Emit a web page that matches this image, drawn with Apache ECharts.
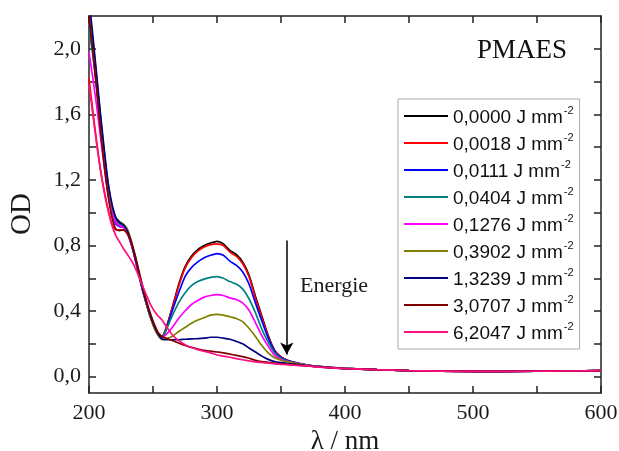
<!DOCTYPE html>
<html>
<head>
<meta charset="utf-8">
<script src="https://cdn.jsdelivr.net/npm/echarts@6/dist/echarts.min.js"></script>
<style>html,body{margin:0;padding:0;background:#fff}#c{width:619px;height:451px}</style>
</head>
<body>
<div id="c"></div>
<script>
const wavelengths = [200,203,206,209,212,215,218,221,224,227,230,233,236,239,242,245,248,251,254,257,
  260,265,270,275,280,285,290,295,300,305,310,315,320,325,330,335,340,345,350,355,360,
  370,380,400,425,450,500,550,600];

const od_00000 = [2.25,2.03,1.8,1.56,1.34,1.15,1.03,0.96,0.935,0.915,0.88,0.81,0.72,0.62,0.525,0.44,0.365,0.305,0.26,0.245,
  0.29,0.42,0.56,0.67,0.735,0.775,0.80,0.815,0.825,0.81,0.77,0.745,0.70,0.62,0.49,0.37,0.25,0.16,0.12,0.10,0.088,
  0.072,0.062,0.05,0.042,0.037,0.032,0.033,0.036];
const od_00018 = [1.82,1.62,1.43,1.26,1.13,1.02,0.93,0.895,0.895,0.895,0.87,0.81,0.73,0.63,0.535,0.45,0.37,0.31,0.265,0.245,
  0.29,0.415,0.55,0.66,0.725,0.765,0.79,0.805,0.81,0.80,0.76,0.735,0.69,0.61,0.48,0.36,0.245,0.16,0.12,0.10,0.087,
  0.071,0.061,0.05,0.042,0.037,0.032,0.033,0.036];
const od_00111 = [2.22,2.0,1.77,1.53,1.31,1.12,1.0,0.93,0.915,0.91,0.88,0.81,0.72,0.62,0.525,0.44,0.365,0.3,0.255,0.24,
  0.28,0.40,0.51,0.61,0.665,0.70,0.725,0.74,0.75,0.74,0.705,0.68,0.64,0.565,0.45,0.34,0.235,0.155,0.115,0.098,0.086,
  0.071,0.061,0.05,0.042,0.037,0.032,0.033,0.036];
const od_00404 = [2.12,1.96,1.76,1.53,1.32,1.13,1.02,0.955,0.93,0.915,0.88,0.81,0.72,0.62,0.525,0.44,0.365,0.3,0.255,0.24,
  0.28,0.37,0.45,0.51,0.555,0.58,0.595,0.605,0.61,0.60,0.58,0.565,0.535,0.475,0.39,0.29,0.21,0.145,0.11,0.095,0.085,
  0.07,0.06,0.05,0.042,0.037,0.032,0.033,0.036];
const od_01276 = [1.98,1.82,1.65,1.46,1.28,1.11,1.0,0.94,0.92,0.91,0.875,0.81,0.72,0.62,0.525,0.44,0.365,0.3,0.255,0.235,
  0.255,0.30,0.355,0.40,0.44,0.465,0.485,0.495,0.50,0.495,0.48,0.47,0.45,0.405,0.33,0.25,0.185,0.13,0.105,0.092,0.083,
  0.07,0.06,0.05,0.042,0.037,0.032,0.033,0.036];
const od_03902 = [2.25,2.05,1.82,1.58,1.36,1.17,1.04,0.97,0.945,0.93,0.9,0.83,0.74,0.635,0.53,0.44,0.36,0.295,0.25,0.225,
  0.23,0.245,0.275,0.30,0.325,0.345,0.36,0.375,0.38,0.375,0.365,0.355,0.335,0.295,0.245,0.19,0.145,0.115,0.1,0.09,0.082,
  0.069,0.06,0.05,0.042,0.037,0.032,0.033,0.036];
const od_13239 = [2.3,2.08,1.84,1.6,1.38,1.18,1.05,0.97,0.94,0.925,0.89,0.82,0.73,0.63,0.53,0.45,0.37,0.31,0.26,0.23,
  0.225,0.225,0.225,0.228,0.23,0.232,0.235,0.24,0.24,0.235,0.228,0.215,0.20,0.175,0.15,0.125,0.105,0.092,0.085,0.08,0.076,
  0.067,0.059,0.049,0.042,0.037,0.032,0.033,0.036];
const od_30707 = [2.2,1.98,1.75,1.5,1.28,1.1,0.97,0.9,0.89,0.895,0.875,0.82,0.74,0.645,0.55,0.46,0.385,0.32,0.27,0.245,
  0.235,0.22,0.205,0.19,0.178,0.168,0.16,0.155,0.15,0.145,0.137,0.13,0.122,0.112,0.1,0.092,0.087,0.082,0.078,0.075,0.072,
  0.066,0.059,0.049,0.042,0.037,0.032,0.033,0.036];
const od_62047 = [1.78,1.6,1.42,1.26,1.12,1.01,0.92,0.86,0.82,0.78,0.745,0.71,0.665,0.61,0.55,0.495,0.44,0.4,0.37,0.345,
  0.31,0.255,0.22,0.195,0.178,0.165,0.155,0.145,0.132,0.125,0.118,0.11,0.103,0.096,0.09,0.086,0.082,0.078,0.075,0.073,0.07,
  0.065,0.058,0.049,0.042,0.037,0.032,0.033,0.036];

const doseLabels = ['0,0000','0,0018','0,0111','0,0404','0,1276','0,3902','1,3239','3,0707','6,2047'];
const seriesValues = [od_00000, od_00018, od_00111, od_00404, od_01276, od_03902, od_13239, od_30707, od_62047];
const colors = ['#000000','#ff0000','#0000ff','#008080','#ff00ff','#808000','#000080','#800000','#ff0f80'];

const xTicks = [200,250,300,350,400,450,500,550,600];
const xLabels = [200,300,400,500,600];
const yTicks = [0,0.2,0.4,0.6,0.8,1.0,1.2,1.4,1.6,1.8,2.0];
const yLabels = [0,0.4,0.8,1.2,1.6,2.0];

const arrowX = 354.5, arrowTop = 0.83, arrowBottom = 0.135;

const serif = 'Liberation Serif';
const sans = 'Liberation Sans';
const axisColor = '#222';

const chart = echarts.init(document.getElementById('c'), null, {renderer: 'canvas'});

const series = doseLabels.map((name, i) => ({
  name: name,
  type: 'line',
  xAxisIndex: 0,
  yAxisIndex: 0,
  showSymbol: false,
  symbol: 'none',
  smooth: 0.2,
  clip: true,
  color: colors[i],
  lineStyle: {width: 1.7, color: colors[i]},
  z: 2 + i,
  data: wavelengths.map((w, k) => [w, seriesValues[i][k]])
}));

series[0].markLine = {
  silent: true,
  symbol: ['none', 'arrow'],
  symbolSize: [10, 12],
  label: {show: false},
  lineStyle: {color: '#000', width: 1.5, type: 'solid'},
  data: [[{coord: [arrowX, arrowTop]}, {coord: [arrowX, arrowBottom]}]]
};

const mkX = (pos, showLabels) => ({
  type: 'value', position: pos, min: 200, max: 600,
  axisLine: {show: true, onZero: false, lineStyle: {color: axisColor, width: 1.5}},
  axisTick: {show: true, inside: true, length: 7, customValues: xTicks, lineStyle: {color: axisColor, width: 1.5}},
  axisLabel: {show: showLabels, customValues: xLabels, margin: 9, fontFamily: serif, fontSize: 22, color: '#1a1a1a'},
  splitLine: {show: false}
});
const mkY = (pos, showLabels) => ({
  type: 'value', position: pos, min: -0.1, max: 2.2,
  axisLine: {show: true, onZero: false, lineStyle: {color: axisColor, width: 1.5}},
  axisTick: {show: true, inside: true, length: 7, customValues: yTicks, lineStyle: {color: axisColor, width: 1.5}},
  axisLabel: {show: showLabels, customValues: yLabels, margin: 8, fontFamily: serif, fontSize: 22, color: '#1a1a1a',
    formatter: v => v.toFixed(1).replace('.', ',')},
  splitLine: {show: false}
});

const xMain = mkX('bottom', true);
xMain.name = 'λ / nm';
xMain.nameLocation = 'middle';
xMain.nameGap = 33;
xMain.nameTextStyle = {fontFamily: serif, fontSize: 27, color: '#1a1a1a', verticalAlign: 'top'};

chart.setOption({
  animation: false,
  backgroundColor: '#fff',
  grid: {left: 89, right: 18, top: 16, bottom: 58, containLabel: false, outerBoundsMode: 'none'},
  xAxis: [xMain, mkX('top', false)],
  yAxis: [mkY('left', true), mkY('right', false)],
  title: {
    text: 'PMAES', right: 47, top: 32,
    textStyle: {fontFamily: serif, fontSize: 27, fontWeight: 'normal', color: '#111'}
  },
  legend: {
    orient: 'vertical', left: 398, top: 99,
    padding: [6, 6, 6, 6],
    itemGap: 5, itemWidth: 44, itemHeight: 2, icon: 'rect',
    borderColor: '#aaa', borderWidth: 1, backgroundColor: '#fff',
    data: doseLabels,
    formatter: n => '{a|' + n + ' J mm}{s|-2}',
    textStyle: {
      color: '#111',
      rich: {
        a: {fontFamily: sans, fontSize: 19, lineHeight: 22, color: '#111', verticalAlign: 'bottom'},
        s: {fontFamily: sans, fontSize: 11, lineHeight: 22, color: '#111', verticalAlign: 'top', padding: [0,0,6,1]}
      }
    }
  },
  graphic: [
    {type: 'text', x: 22, y: 214, rotation: Math.PI / 2,
      style: {text: 'OD', font: '29px "Liberation Serif"', fill: '#1a1a1a', align: 'center', verticalAlign: 'middle'}},
    {type: 'text', left: 300, top: 275,
      style: {text: 'Energie', font: '22px "Liberation Serif"', fill: '#1a1a1a'}}
  ],
  series: series
});
</script>
</body>
</html>
